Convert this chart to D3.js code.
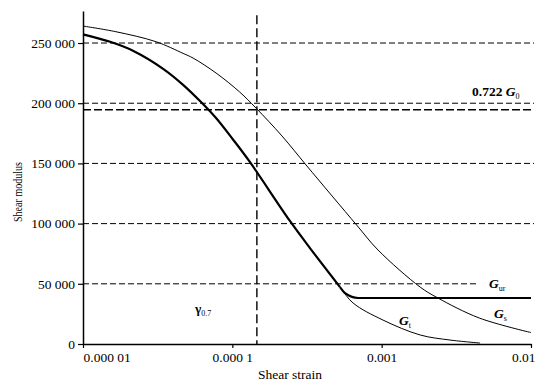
<!DOCTYPE html>
<html>
<head>
<meta charset="utf-8">
<script src="https://cdn.jsdelivr.net/npm/d3@7"></script>
<style>
  body { margin: 0; background: #fff; }
  text { font-family: "Liberation Serif", "Times New Roman", serif; fill: #000; }
</style>
</head>
<body>
<div id="chart"></div>
<script>
// curve data (strain, modulus)
const gsStrain = [1e-5, 1.66e-5, 3.08e-5, 4.68e-5, 5.46e-5, 7.78e-5, 1.12e-4, 1.44e-4, 2.15e-4, 3.16e-4, 6.8e-4, 9.45e-4, 1.81e-3, 2.38e-3, 4.5e-3, 1e-2]
const gsModulus = [264100, 259400, 251100, 241400, 237500, 225100, 209300, 196000, 172800, 147800, 98800, 78100, 47300, 38200, 21600, 9500]

const gtStrain = [1e-5, 1.52e-5, 2.16e-5, 3.44e-5, 4.68e-5, 6.17e-5, 7.78e-5, 1.01e-4, 1.31e-4, 2.43e-4, 3.31e-4, 5.26e-4, 6.43e-4, 1.02e-3, 1.81e-3, 2.87e-3, 4.56e-3]
const gtModulus = [257200, 251000, 243600, 228600, 215300, 201000, 187700, 169900, 151200, 102200, 79700, 47300, 34100, 19900, 7500, 3300, 800]

// G_ur plateau (thick line joins it with a rounded corner)
const urStrain = [5.75e-4, 6.95e-4, 1e-2]
const urModulus = [41800, 38200, 38200]

// reference levels
const gridLevels = [250000, 200000, 150000, 100000]
const g0Level = 194600
const gurLevel = 50000
const gurLevelEnd = 4.35e-3
const gamma07 = 1.46e-4

const yTicks = [0, 50000, 100000, 150000, 200000, 250000]
const xTicks = [1e-5, 1e-4, 1e-3, 1e-2]
const xTickLabels = ['0.000 01', '0.000 1', '0.001', '0.01']

// dimensions
const w = 557
const h = 388
const mLeft = 83
const mRight = 531
const mTop = 11
const mBottom = 344

const svg = d3.select('#chart')
    .append('svg')
    .attr('width', w)
    .attr('height', h)

const x = d3.scaleLog().domain([1e-5, 1e-2]).range([mLeft, mRight])
const y = d3.scaleLinear().domain([0, 276600]).range([mBottom, mTop])

// dashed reference lines
const grid = svg.append('g')
    .attr('stroke', '#000')
    .attr('fill', 'none')

grid.selectAll('line.grid')
    .data(gridLevels)
    .enter()
    .append('line')
    .attr('class', 'grid')
    .attr('x1', mLeft)
    .attr('x2', mRight + 3)
    .attr('y1', d => y(d))
    .attr('y2', d => y(d))
    .attr('stroke-width', 1)
    .attr('stroke-dasharray', '6,3')

grid.append('line')
    .attr('x1', mLeft)
    .attr('x2', x(gurLevelEnd))
    .attr('y1', y(gurLevel))
    .attr('y2', y(gurLevel))
    .attr('stroke-width', 1)
    .attr('stroke-dasharray', '6,3')

grid.append('line')
    .attr('x1', mLeft)
    .attr('x2', mRight + 3)
    .attr('y1', y(g0Level))
    .attr('y2', y(g0Level))
    .attr('stroke-width', 1.4)
    .attr('stroke-dasharray', '8,3')

grid.append('line')
    .attr('x1', x(gamma07))
    .attr('x2', x(gamma07))
    .attr('y1', y(273000))
    .attr('y2', y(0))
    .attr('stroke-width', 1.4)
    .attr('stroke-dasharray', '9,4')

// curves
const line = d3.line()
    .x(d => x(d[0]))
    .y(d => y(d[1]))
    .curve(d3.curveCatmullRom.alpha(0.5))

const plateau = d3.line()
    .x(d => x(d[0]))
    .y(d => y(d[1]))
    .curve(d3.curveMonotoneX)

const gs = gsStrain.map((s, i) => [s, gsModulus[i]])
const gt = gtStrain.map((s, i) => [s, gtModulus[i]])
const ur = urStrain.map((s, i) => [s, urModulus[i]])
// thick line follows G_t until it meets the plateau
const thickUpper = gt.filter(d => d[1] > 45000)
const thickLower = [thickUpper[thickUpper.length - 1]].concat(ur)

svg.append('path')
    .attr('d', line(gs))
    .attr('fill', 'none')
    .attr('stroke', '#000')
    .attr('stroke-width', 1)

svg.append('path')
    .attr('d', line(gt))
    .attr('fill', 'none')
    .attr('stroke', '#000')
    .attr('stroke-width', 1)

svg.append('path')
    .attr('d', line(thickUpper))
    .attr('fill', 'none')
    .attr('stroke', '#000')
    .attr('stroke-width', 2.2)

svg.append('path')
    .attr('d', plateau(thickLower))
    .attr('fill', 'none')
    .attr('stroke', '#000')
    .attr('stroke-width', 2.2)

// axes
const yAxis = d3.axisLeft(y)
    .tickValues(yTicks)
    .tickFormat(d => d3.format(',')(d).replace(/,/g, ' '))
    .tickSize(5)
    .tickSizeOuter(0)
    .tickPadding(3)

const gy = svg.append('g')
    .attr('transform', `translate(${mLeft},0)`)
    .call(yAxis)

const xAxis = d3.axisBottom(x)
    .tickValues(xTicks)
    .tickFormat((d, i) => xTickLabels[i])
    .tickSize(4)
    .tickSizeOuter(0)
    .tickPadding(4)

const gx = svg.append('g')
    .attr('transform', `translate(0,${mBottom})`)
    .call(xAxis)

;[gx, gy].forEach(g => {
    g.attr('font-family', '"Liberation Serif", serif')
    g.select('.domain').attr('stroke-width', 1.5)
    g.selectAll('.tick line').attr('stroke-width', 1.2)
    g.selectAll('text')
        .attr('font-size', 13.5)
        .attr('fill', '#000')
})

gx.selectAll('.tick text')
    .attr('text-anchor', (d, i) => i === 0 ? 'start' : i === xTicks.length - 1 ? 'end' : 'middle')
    .attr('dx', (d, i) => i === xTicks.length - 1 ? 4 : 0)

// axis titles
svg.append('text')
    .attr('x', 290)
    .attr('y', 379)
    .attr('text-anchor', 'middle')
    .attr('font-size', 13.5)
    .text('Shear strain')

svg.append('text')
    .attr('transform', 'translate(22,192) rotate(-90)')
    .attr('text-anchor', 'middle')
    .attr('font-size', 13)
    .attr('textLength', 60)
    .attr('lengthAdjust', 'spacingAndGlyphs')
    .text('Shear modulus')

// annotations
function subLabel(px, py, main, sub, italic) {
    const t = svg.append('text')
        .attr('x', px)
        .attr('y', py)
        .attr('font-size', 13.5)
        .attr('font-weight', 'bold')
    t.append('tspan')
        .attr('font-style', italic ? 'italic' : 'normal')
        .text(main)
    t.append('tspan')
        .attr('font-size', 8)
        .attr('font-weight', 'normal')
        .attr('dy', 3)
        .text(sub)
    return t
}

const g0 = svg.append('text')
    .attr('x', 472)
    .attr('y', 96)
    .attr('font-size', 13.5)
g0.append('tspan').attr('font-weight', 'bold').text('0.722 ')
g0.append('tspan').attr('font-style', 'italic').attr('font-weight', 'bold').text('G')
g0.append('tspan').attr('font-size', 8).attr('dy', 3).text('0')

subLabel(489, 288, 'G', 'ur', true)
subLabel(494, 318, 'G', 's', true)
subLabel(399, 325, 'G', 't', true)
subLabel(195, 313, 'γ', '0.7', false)
</script>
</body>
</html>
